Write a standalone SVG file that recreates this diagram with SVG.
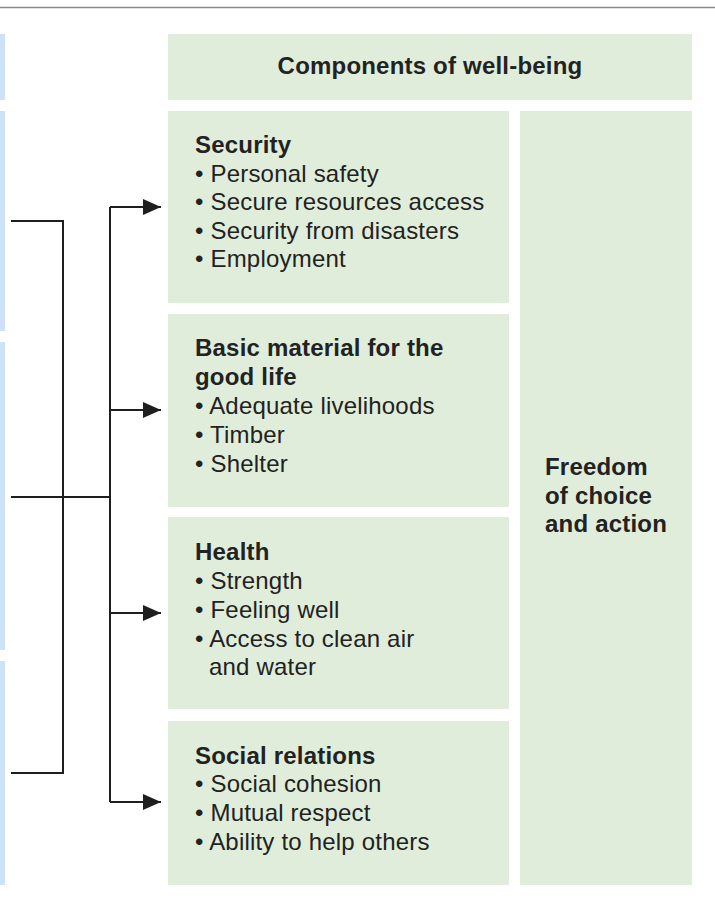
<svg xmlns="http://www.w3.org/2000/svg" width="715" height="906" viewBox="0 0 715 906">
  <style>
    .blue { fill: #cfe1f6; }
    .green { fill: #e0edda; }
    .t { font-family: "Liberation Sans", Arial, sans-serif; font-size: 24px; letter-spacing: 0.2px; fill: #222222; }
    .b { font-weight: bold; }
    .conn { fill: none; stroke: #1e1e1e; stroke-width: 2; }
  </style>
  <defs>
    <marker id="arrow" viewBox="0 0 18 16" refX="18" refY="8" markerWidth="18" markerHeight="16" markerUnits="userSpaceOnUse" orient="auto">
      <path d="M0,0 L18,8 L0,16 Z" fill="#1e1e1e"/>
    </marker>
  </defs>
  <rect width="715" height="906" fill="#ffffff"/>
  <line x1="0" y1="7.5" x2="715" y2="7.5" stroke="#8a8a8a" stroke-width="1.5"/>

  <g id="left-boxes">
    <rect class="blue" x="0" y="34" width="5" height="66"/>
    <rect class="blue" x="0" y="111" width="5" height="220"/>
    <rect class="blue" x="0" y="342" width="5" height="308"/>
    <rect class="blue" x="0" y="661" width="5" height="224"/>
  </g>

  <g id="header">
    <rect class="green" x="168" y="34" width="524" height="66"/>
    <text class="t b" x="430" y="74" text-anchor="middle">Components of well-being</text>
  </g>

  <g id="security">
    <rect class="green" x="168" y="111" width="341" height="192"/>
    <text class="t b" x="195" y="153">Security</text>
    <text class="t" x="195" y="181.5">• Personal safety</text>
    <text class="t" x="195" y="210">• Secure resources access</text>
    <text class="t" x="195" y="238.5">• Security from disasters</text>
    <text class="t" x="195" y="267">• Employment</text>
  </g>

  <g id="basic-material">
    <rect class="green" x="168" y="314" width="341" height="193"/>
    <text class="t b" x="195" y="356">Basic material for the</text>
    <text class="t b" x="195" y="385">good life</text>
    <text class="t" x="195" y="414">• Adequate livelihoods</text>
    <text class="t" x="195" y="442.5">• Timber</text>
    <text class="t" x="195" y="471.5">• Shelter</text>
  </g>

  <g id="health">
    <rect class="green" x="168" y="517" width="341" height="192"/>
    <text class="t b" x="195" y="560">Health</text>
    <text class="t" x="195" y="588.5">• Strength</text>
    <text class="t" x="195" y="617.5">• Feeling well</text>
    <text class="t" x="195" y="646.5">• Access to clean air</text>
    <text class="t" x="209" y="675">and water</text>
  </g>

  <g id="social-relations">
    <rect class="green" x="168" y="721" width="341" height="164"/>
    <text class="t b" x="195" y="763.5">Social relations</text>
    <text class="t" x="195" y="792">• Social cohesion</text>
    <text class="t" x="195" y="821">• Mutual respect</text>
    <text class="t" x="195" y="849.5">• Ability to help others</text>
  </g>

  <g id="freedom">
    <rect class="green" x="520" y="111" width="172" height="774"/>
    <text class="t b" x="545" y="475">Freedom</text>
    <text class="t b" x="545" y="503.5">of choice</text>
    <text class="t b" x="545" y="532">and action</text>
  </g>

  <g id="connectors">
    <path class="conn" d="M11,221 H63 V773 H11"/>
    <path class="conn" d="M11,497 H110"/>
    <path class="conn" d="M110,207 V802"/>
    <path class="conn" d="M110,207 H161" marker-end="url(#arrow)"/>
    <path class="conn" d="M110,410 H161" marker-end="url(#arrow)"/>
    <path class="conn" d="M110,613 H161" marker-end="url(#arrow)"/>
    <path class="conn" d="M110,802 H161" marker-end="url(#arrow)"/>
  </g>
</svg>
